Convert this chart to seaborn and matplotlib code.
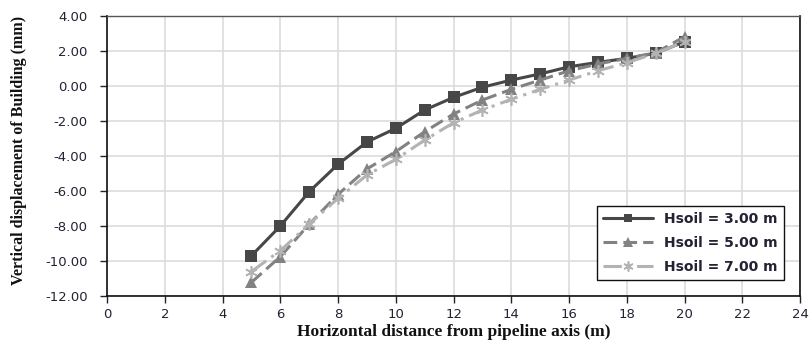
import matplotlib
matplotlib.use("Agg")
import matplotlib.pyplot as plt
import numpy as np
import pandas as pd
import seaborn as sns

# distance from pipeline axis (m)
distance = [5, 6, 7, 8, 9, 10, 11, 12, 13, 14, 15, 16, 17, 18, 19, 20]

# vertical displacement of building (mm), one list per soil height
disp_h3 = [-9.70, -8.00, -6.04, -4.47, -3.20, -2.42, -1.37, -0.65,
           -0.07, 0.34, 0.69, 1.10, 1.35, 1.58, 1.87, 2.53]
disp_h5 = [-11.22, -9.75, -7.90, -6.19, -4.74, -3.75, -2.61, -1.60,
           -0.80, -0.19, 0.34, 0.87, 1.26, 1.58, 1.90, 2.82]
disp_h7 = [-10.60, -9.41, -7.89, -6.42, -5.09, -4.19, -3.09, -2.10,
           -1.37, -0.76, -0.19, 0.34, 0.87, 1.33, 1.87, 2.53]

labels = ["Hsoil = 3.00 m", "Hsoil = 5.00 m", "Hsoil = 7.00 m"]

x_ticks = list(range(0, 25, 2))
y_ticks = [-12, -10, -8, -6, -4, -2, 0, 2, 4]

df = pd.concat([
    pd.DataFrame({"x": distance, "y": vals, "series": lab})
    for vals, lab in zip([disp_h3, disp_h5, disp_h7], labels)
], ignore_index=True)

sns.set_theme(style="white")
plt.rcParams["font.family"] = ["DejaVu Sans"]

fig = plt.figure(figsize=(8.09, 3.44), dpi=100)
ax = fig.add_axes([0.1323, 0.1395, 0.8567, 0.814])

styles = {
    labels[0]: dict(color="#474747", marker="s", ms=8, dashes=None, mew=0),
    labels[1]: dict(color="#828282", marker="^", ms=8.5, dashes=(4.5, 2), mew=0),
    labels[2]: dict(color="#b3b3b3", marker=(6, 2, 0), ms=9, dashes=(6, 2, 1, 2), mew=1.2),
}

for lab in labels:
    st = styles[lab]
    sub = df[df["series"] == lab]
    kw = dict(x="x", y="y", data=sub, ax=ax, color=st["color"], marker=st["marker"],
              markersize=st["ms"], markeredgewidth=st["mew"], markeredgecolor=st["color"],
              linewidth=2.2, label=lab, sort=False)
    if st["dashes"] is not None:
        kw["dashes"] = st["dashes"]
    sns.lineplot(**kw)

ax.set_xlim(0, 24)
ax.set_ylim(-12, 4)
ax.set_xticks(x_ticks)
ax.set_yticks(y_ticks)
ax.set_xticklabels([str(t) for t in x_ticks])
ax.set_yticklabels([f"{t:.2f}" for t in y_ticks])
ax.grid(True, color="#dcdcdc", linewidth=1.2)
ax.set_axisbelow(True)

ax.tick_params(axis="both", labelsize=9.5, colors="#222233", length=5, width=1,
               direction="out", bottom=True, left=True)
ax.tick_params(axis="y", pad=9)
ax.tick_params(axis="x", pad=3.5)
for side in ["left", "bottom"]:
    ax.spines[side].set_color("#111111")
    ax.spines[side].set_linewidth(1.2)
ax.spines["top"].set_color("#555555")
ax.spines["right"].set_color("#111111")
ax.spines["top"].set_linewidth(1.0)
ax.spines["right"].set_linewidth(1.2)

ax.set_xlabel("Horizontal distance from pipeline axis (m)", family="Liberation Serif",
              fontweight="bold", fontsize=12.5, color="#111111")
ax.set_ylabel("Vertical displacement of Building (mm)", family="Liberation Serif",
              fontweight="bold", fontsize=11.5, color="#111111")
ax.xaxis.set_label_coords(0.5, -0.0985)
ax.yaxis.set_label_coords(-0.115, 0.52)

leg = ax.legend(loc="lower right", bbox_to_anchor=(0.977, 0.057), borderaxespad=0,
                frameon=True, fancybox=False, edgecolor="#111111", framealpha=1,
                prop={"weight": "bold", "size": 10}, handlelength=3.6, markerscale=0.8,
                borderpad=0.45, labelspacing=0.7, handletextpad=0.8)
leg.get_frame().set_linewidth(1.0)
for t in leg.get_texts():
    t.set_color("#222233")

fig.savefig("out.png", dpi=100)
